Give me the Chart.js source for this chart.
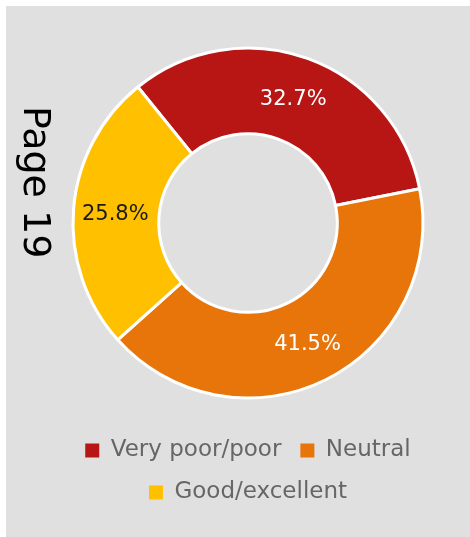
<!DOCTYPE html>
<html>
<head>
<meta charset="utf-8">
<script src="https://cdn.jsdelivr.net/npm/chart.js@4"></script>
<style>
  html, body { margin: 0; padding: 0; background: #ffffff; }
  body { width: 470px; height: 537px; position: relative; overflow: hidden; }
  .panel { position: absolute; left: 6px; top: 6px; width: 464px; height: 531px; background: #e0e0e0; }
  .page-label {
    position: absolute; left: 18px; top: 106px;
    writing-mode: vertical-rl;
    font-family: "DejaVu Sans", sans-serif; font-size: 38px; line-height: 38px;
    color: #000000; white-space: nowrap;
  }
</style>
</head>
<body>
<div class="panel">
  <canvas id="donut" width="464" height="531"></canvas>
</div>
<div class="page-label">Page 19</div>
<script>
// ratings share, in percent
const categories = ['Very poor/poor', 'Neutral', 'Good/excellent'];
const shares = [32.7, 41.5, 25.8];
const sliceColors = ['#b81515', '#e8750a', '#ffc000'];
const labelColors = ['#ffffff', '#ffffff', '#1a1a1a'];

// Draws the percent value in the middle of each slice
const sliceLabels = {
    id: 'sliceLabels',
    afterDatasetsDraw(chart) {
        const ctx = chart.ctx;
        const meta = chart.getDatasetMeta(0);
        ctx.save();
        ctx.font = '21px "DejaVu Sans", sans-serif';
        ctx.textAlign = 'center';
        ctx.textBaseline = 'middle';
        meta.data.forEach((arc, i) => {
            const p = arc.getProps(['x', 'y', 'startAngle', 'endAngle', 'innerRadius', 'outerRadius']);
            const mid = (p.startAngle + p.endAngle) / 2;
            const r = (p.innerRadius + p.outerRadius) / 2 + 1;
            ctx.fillStyle = labelColors[i];
            ctx.fillText(shares[i].toFixed(1) + '%', p.x + Math.cos(mid) * r, p.y + Math.sin(mid) * r + 2);
        });
        ctx.restore();
    }
};

// legend boxes without the white slice border
const defaultLabels = Chart.overrides.doughnut.plugins.legend.labels.generateLabels;

const donutCtx = document.getElementById('donut').getContext('2d');
new Chart(donutCtx, {
    type: 'doughnut',
    data: {
        labels: categories,
        datasets: [{
            data: shares,
            backgroundColor: sliceColors,
            borderColor: '#ffffff',
            borderWidth: 3,
        }],
    },
    options: {
        responsive: false,
        animation: false,
        rotation: -39,
        radius: 175,
        cutout: '51%',
        layout: { padding: { left: 20, right: 0, top: 20, bottom: 23 } },
        plugins: {
            legend: {
                position: 'bottom',
                labels: {
                    color: '#666666',
                    font: { family: '"DejaVu Sans", sans-serif', size: 23 },
                    boxWidth: 14,
                    boxHeight: 14,
                    padding: 19,
                    generateLabels: (chart) => defaultLabels(chart).map(item => ({ ...item, lineWidth: 0 })),
                },
            },
            tooltip: { enabled: false },
        },
    },
    plugins: [sliceLabels],
});
</script>
</body>
</html>
